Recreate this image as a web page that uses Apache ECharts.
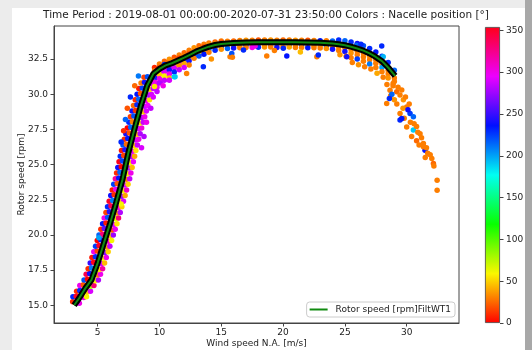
<!DOCTYPE html>
<html><head><meta charset="utf-8">
<script src="https://cdn.jsdelivr.net/npm/echarts@6/dist/echarts.min.js"></script>
<style>html,body{margin:0;padding:0;background:#fff}#c{width:532px;height:350px}</style>
</head><body><div id="c"></div>
<script>
// ---- data ----
const xTicks = [5, 10, 15, 20, 25, 30];
const yTicks = [15, 17.5, 20, 22.5, 25, 27.5, 30, 32.5];
const cbTicks = [0, 50, 100, 150, 200, 250, 300, 350];
const nacelleMin = 0, nacelleMax = 354;
const titleText = 'Time Period : 2019-08-01 00:00:00-2020-07-31 23:50:00 Colors : Nacelle position [°]';
const lineName = 'Rotor speed [rpm]FiltWT1';

const windCurve  = [3.1,3.5,4.0,4.5,5.0,5.5,6.0,6.5,7.0,7.5,8.0,8.5,9.0,9.5,10.0,10.5,11.0,11.5,12.0,12.5,13.0,13.5,14.0,14.5,15.0,16.0,17.0,18.0,19.0,20.0,21.0,22.0,23.0,24.0,24.5,25.0,25.5,26.0,26.5,27.0,27.5,28.0,28.5,29.06];
const rotorCurve = [15.0,15.5,16.2,16.8,18.0,19.4,20.8,22.3,23.9,25.9,27.6,29.2,30.6,31.45,31.8,32.05,32.2,32.4,32.6,32.82,33.05,33.22,33.38,33.5,33.57,33.65,33.68,33.7,33.7,33.7,33.7,33.68,33.66,33.6,33.55,33.48,33.38,33.25,33.1,32.9,32.65,32.35,31.9,31.3];

// [wind speed, rotor speed, nacelle position]
const rampPoints = [
[2.98,15.25,10],[3.52,15.15,300],
[3.0,15.6,230],[3.27,15.65,350],[3.87,15.55,300],[4.1,15.6,60],
[3.3,16.0,10],[3.56,16.05,230],[4.16,15.95,50],[4.42,16.0,290],
[3.56,16.4,300],[3.84,16.45,20],[4.44,16.35,80],[4.7,16.4,330],
[3.9,16.8,220],[4.18,16.85,0],[4.8,16.75,60],[5.06,16.8,280],
[4.07,17.2,340],[4.35,17.25,240],[4.97,17.15,30],[5.23,17.2,300],
[4.23,17.6,10],[4.51,17.65,210],[5.13,17.55,55],[5.4,17.6,320],
[4.4,18.0,250],[4.68,18.05,355],[5.3,17.95,290],[5.56,18.0,45],
[4.54,18.4,5],[4.82,18.45,230],[5.44,18.35,60],[5.7,18.4,300],
[4.69,18.8,300],[4.97,18.85,15],[5.59,18.75,270],[5.85,18.8,50],
[4.83,19.2,225],[5.11,19.25,350],[5.73,19.15,40],[5.99,19.2,285],
[4.97,19.6,0],[5.25,19.65,240],[5.87,19.55,310],[6.13,19.6,60],
[5.11,20.0,215],[5.39,20.05,330],[6.01,19.95,50],[6.27,20.0,275],
[5.26,20.4,10],[5.54,20.45,260],[6.16,20.35,20],[6.42,20.4,300],
[5.4,20.8,235],[5.68,20.85,5],[6.3,20.75,290],[6.56,20.8,55],
[5.53,21.2,300],[5.81,21.25,220],[6.43,21.15,65],[6.69,21.2,330],
[5.67,21.6,15],[5.95,21.65,245],[6.57,21.55,35],[6.83,21.6,280],
[5.8,22.0,230],[6.08,22.05,340],[6.7,21.95,300],[6.96,22.0,50],
[5.93,22.4,350],[6.21,22.45,210],[6.83,22.35,55],[7.09,22.4,290],
[6.06,22.8,240],[6.34,22.85,10],[6.96,22.75,275],[7.22,22.8,40],
[6.18,23.2,5],[6.46,23.25,300],[7.08,23.15,60],[7.34,23.2,310],
[6.3,23.6,225],[6.58,23.65,20],[7.2,23.55,290],[7.46,23.6,50],
[6.43,24.0,320],[6.71,24.05,235],[7.33,23.95,30],[7.59,24.0,285],
[6.53,24.4,10],[6.81,24.45,215],[7.43,24.35,55],[7.69,24.4,300],
[6.63,24.8,240],[6.91,24.85,0],[7.53,24.75,280],[7.79,24.8,45],
[6.73,25.2,355],[7.01,25.25,225],[7.63,25.15,60],[7.89,25.2,295],
[6.83,25.6,230],[7.11,25.65,15],[7.73,25.55,285],[7.99,25.6,40],
[6.93,26.0,5],[7.21,26.05,245],[7.83,25.95,300],[8.09,26.0,55],
[7.05,26.4,220],[7.33,26.45,25],[7.95,26.35,50],[8.21,26.4,285],
[7.16,26.8,10],[7.44,26.85,235],[8.06,26.75,290],[8.32,26.8,300],
[7.28,27.2,240],[7.56,27.25,20],[8.18,27.15,45],[8.44,27.2,280],
[7.4,27.6,0],[7.68,27.65,215],[8.3,27.55,290],[8.56,27.6,305],
[7.53,28.0,230],[7.81,28.05,30],[8.43,27.95,55],[8.69,28.0,285],
[7.65,28.4,15],[7.93,28.45,220],[8.55,28.35,280],[8.81,28.4,300],
[7.78,28.8,240],[8.06,28.85,10],[8.68,28.75,50],[8.94,28.8,290],
[7.9,29.2,25],[8.18,29.25,230],[8.8,29.15,285],[9.06,29.2,295],
[8.04,29.6,10],[8.32,29.65,215],[8.94,29.55,300],[9.2,29.6,55],
[8.19,30.0,235],[8.47,30.05,20],[9.09,29.95,280],[9.35,30.0,290],
[8.33,30.4,5],[8.61,30.45,225],[9.23,30.35,50],[9.5,30.4,285],
[8.51,30.8,30],[8.79,30.85,240],[9.41,30.75,300],[9.68,30.8,290],
[8.75,31.2,15],[9.03,31.25,220],[9.65,31.15,285],[9.92,31.2,300],
[6.9,26.6,230],[8.55,26.2,290],[7.1,27.4,10],[8.75,27.0,280],[7.25,28.2,215],[8.95,28.0,300],
[7.4,29.0,20],[9.3,29.0,285],[7.65,29.8,230],[9.5,29.8,290],[8.0,30.6,25],[9.8,30.5,300],
[8.3,31.3,210],[10.1,30.9,285],[5.1,19.8,200],[6.9,22.2,60]
];

const plateauPoints = [
[9.6,31.9,10],[9.6,31.67,30],[9.6,31.35,290],[9.6,31.15,230],[9.6,30.85,300],[9.6,30.55,55],
[10.0,32.15,30],[10.0,31.92,20],[10.0,31.6,285],[10.0,31.4,50],[10.0,31.1,300],[10.0,30.8,280],
[10.4,32.35,25],[10.4,32.12,230],[10.4,31.8,300],[10.4,31.6,290],[10.4,31.3,60],[10.4,31.0,285],
[10.8,32.49,35],[10.8,32.26,30],[10.8,31.94,280],[10.8,31.74,240],[10.8,31.44,300],[10.8,31.15,45],
[11.2,32.63,20],[11.2,32.4,30],[11.2,32.08,50],[11.2,31.88,290],[11.2,31.58,230],[11.2,31.25,185],
[11.6,32.79,30],[11.6,32.56,15],[11.6,32.24,300],[11.6,32.04,35],[11.6,31.74,285],
[12.0,32.95,25],[12.0,32.72,30],[12.0,32.4,230],[12.0,32.2,40],[12.0,31.9,290],
[12.4,33.13,30],[12.4,32.9,20],[12.4,32.58,45],[12.4,32.38,240],[12.4,32.08,30],
[12.8,33.31,35],[12.8,33.08,30],[12.8,32.76,230],[12.8,32.56,30],
[13.2,33.45,25],[13.2,33.24,30],[13.2,32.92,50],[13.2,32.72,220],
[13.6,33.55,30],[13.6,33.37,20],[13.6,33.05,35],[13.6,32.85,235],
[14.0,33.64,30],[14.0,33.5,35],[14.0,33.18,210],[14.0,32.98,30],
[14.5,33.72,25],[14.5,33.62,30],[14.5,33.3,40],[14.5,33.12,230],
[15.0,33.78,30],[15.0,33.69,20],[15.0,33.37,230],[15.0,33.2,35],
[15.5,33.76,30],[15.5,33.42,35],[15.5,33.25,215],
[16.0,33.79,25],[16.0,33.45,30],[16.0,33.28,240],
[16.5,33.82,30],[16.5,33.47,40],[16.5,33.3,30],
[17.0,33.83,35],[17.0,33.48,225],[17.0,33.32,30],
[17.5,33.84,30],[17.5,33.49,30],[17.5,33.33,300],
[18.0,33.85,20],[18.0,33.5,40],[18.0,33.34,230],
[18.5,33.85,30],[18.5,33.5,30],[18.5,33.35,35],
[19.0,33.85,35],[19.0,33.5,215],[19.0,33.35,30],
[19.5,33.84,30],[19.5,33.5,30],[19.5,33.33,240],
[20.0,33.85,25],[20.0,33.5,35],[20.0,33.34,30],
[20.5,33.85,30],[20.5,33.5,230],[20.5,33.35,40],
[21.0,33.84,35],[21.0,33.5,30],[21.0,33.33,30],
[21.5,33.84,30],[21.5,33.49,220],[21.5,33.32,30],
[22.0,33.83,20],[22.0,33.48,35],[22.0,33.3,235],
[22.5,33.82,30],[22.5,33.47,30],[22.5,33.3,30],
[23.0,33.81,235],[23.0,33.46,40],[23.0,33.28,30],
[23.5,33.8,30],[23.5,33.43,225],[23.5,33.25,35],
[24.0,33.78,215],[24.0,33.4,30],[24.0,33.2,240],
[16.8,33.14,230],[18.68,32.71,30],[20.02,33.26,230],[20.3,32.71,235],[22.73,32.66,30],[22.85,32.78,230],
[17.74,33.42,300],[13.55,31.95,230],[15.71,32.66,30],[15.85,32.9,220],[12.2,31.48,30],[11.26,31.24,190],
[15.9,32.62,30],[19.3,33.1,30],[21.4,33.0,45],[14.2,32.5,35],[10.8,31.0,290],[10.3,30.6,300],[9.8,30.2,285]
];

const tailPoints = [
[24.5,33.85,230],[24.5,33.35,30],[24.5,33.1,30],[24.6,32.8,35],
[25.0,33.8,215],[25.0,33.28,30],[25.0,33.03,240],[25.1,32.7,30],
[25.5,33.72,230],[25.5,33.18,30],[25.5,32.93,35],[25.5,32.6,30],[25.6,32.25,30],
[26.0,33.6,240],[26.0,33.05,30],[26.0,32.8,30],[26.0,32.5,225],[26.1,32.1,35],
[26.5,33.45,220],[26.5,32.9,30],[26.5,32.65,30],[26.5,32.35,30],[26.6,31.95,30],
[27.0,33.25,230],[27.0,32.7,35],[27.0,32.45,30],[27.0,32.15,210],[27.1,31.8,30],
[27.5,33.0,235],[27.5,32.45,30],[27.5,32.2,30],[27.5,31.9,30],[27.6,31.5,40],
[28.0,32.7,225],[28.0,32.15,30],[28.0,31.9,200],[28.0,31.6,30],[28.1,31.2,30],
[28.5,32.25,230],[28.5,31.7,30],[28.5,31.45,30],[28.5,31.15,35],[28.4,30.7,30],
[29.0,31.7,215],[29.0,31.15,30],[29.0,30.9,30],[28.9,30.6,30],
[27.98,33.42,230],[25.96,33.49,215],[27.04,32.9,225],[25.15,32.66,240],[28.1,32.66,195],[26.3,33.55,230],
[28.9,30.77,30],[28.65,30.29,30],[29.19,30.17,25],[29.46,29.94,30],[28.38,29.35,30],[29.73,29.6,35],
[30.0,29.1,30],[29.46,28.63,30],[30.27,28.63,225],[29.46,28.16,230],[30.54,28.4,215],[30.0,27.68,30],
[30.54,27.45,190],[30.8,27.7,30],[31.08,27.2,30],[30.8,26.7,25],[31.35,26.5,30],[31.48,26.02,235],
[31.35,26.26,30],[32.03,25.43,30],[32.16,25.08,25],[32.46,23.89,30],[32.46,23.18,30],
[29.3,30.5,30],[29.6,30.3,30],[29.9,29.8,30],[29.2,29.3,30],[29.7,29.0,35],[30.2,29.3,30],
[29.8,28.3,30],[30.3,28.0,30],[30.1,28.9,240],[30.6,27.9,30],[30.9,27.3,30],[31.2,26.9,30],
[31.0,26.4,30],[31.6,26.2,30],[31.7,25.8,30],[31.9,25.7,30],[32.2,24.9,30],[28.7,29.9,30],
[29.0,29.6,35],[28.8,30.0,215],[30.4,27.0,30],[31.5,25.5,30],[29.6,28.28,235],[28.6,29.7,230]
];

// ---- style ----
const hsvColors = ['#ff0000','#fbf700','#08ff00','#00fff2','#0010ff','#ed00ff','#ff0018'];
const txt = '#222';
const font = 'DejaVu Sans';

const chart = echarts.init(document.getElementById('c'), null, {renderer:'canvas'});
const scatterData = rampPoints.concat(plateauPoints, tailPoints);
const curveData = windCurve.map((w, i) => [w, rotorCurve[i]]);

chart.setOption({
  animation: false,
  backgroundColor: '#fff',
  textStyle: {fontFamily: font},
  graphic: [
    {type:'rect', silent:true, z:-10, shape:{x:0,y:0,width:532,height:8}, style:{fill:'#ececec'}},
    {type:'rect', silent:true, z:-10, shape:{x:0,y:0,width:12,height:350}, style:{fill:'#ececec'}},
    {type:'rect', silent:true, z:-10, shape:{x:525,y:0,width:7,height:350}, style:{fill:'#a8a8a8'}}
  ],
  title: {
    text: titleText, left: 'center', top: 10, padding: 0,
    textStyle: {fontSize: 10.5, fontWeight: 'normal', color: txt, fontFamily: font}
  },
  legend: {
    data: [{name: lineName, icon: 'rect'}],
    right: 77, bottom: 33, padding: [3, 4, 3, 3],
    itemWidth: 18, itemHeight: 2,
    borderColor: '#cccccc', borderWidth: 1, borderRadius: 3,
    backgroundColor: 'rgba(255,255,255,0.85)',
    textStyle: {fontSize: 9, color: txt, fontFamily: font, padding: [0,0,0,3]}
  },
  visualMap: {
    show: false, type: 'continuous', dimension: 2, seriesIndex: 0,
    min: nacelleMin, max: nacelleMax, inRange: {color: hsvColors}
  },
  grid: [
    {left: 54, right: 73, top: 26, bottom: 27, containLabel: false, outerBoundsMode: 'none',
     show: true, borderColor: '#444', borderWidth: 1, backgroundColor: 'transparent'},
    {left: 485, width: 15, top: 27, bottom: 27, containLabel: false, outerBoundsMode: 'none', show: false}
  ],
  xAxis: [
    {type:'value', gridIndex:0, min:1.47, max:34.23,
     name:'Wind speed N.A. [m/s]', nameLocation:'middle', nameGap:16, nameMoveOverlap:false,
     nameTextStyle:{fontSize:9, color:txt, fontFamily:font},
     axisLine:{show:true, lineStyle:{color:'#444'}},
     axisTick:{show:true, length:3.5, lineStyle:{color:'#444'}, customValues: xTicks},
     axisLabel:{fontSize:9, color:txt, margin:5, fontFamily:font, customValues: xTicks},
     splitLine:{show:false}},
    {type:'category', gridIndex:1, data:[''], show:false}
  ],
  yAxis: [
    {type:'value', gridIndex:0, min:13.74, max:34.85,
     name:'Rotor speed [rpm]', nameLocation:'middle', nameGap:28, nameMoveOverlap:false,
     nameTextStyle:{fontSize:9, color:txt, fontFamily:font},
     axisLine:{show:true, lineStyle:{color:'#444'}},
     axisTick:{show:true, length:3.5, lineStyle:{color:'#444'}, customValues: yTicks},
     axisLabel:{fontSize:9, color:txt, margin:6, fontFamily:font, customValues: yTicks,
       formatter: v => v.toFixed(1)},
     splitLine:{show:false}},
    {type:'value', gridIndex:1, min:nacelleMin, max:nacelleMax, position:'right',
     axisLine:{show:false},
     axisTick:{show:true, length:3.5, lineStyle:{color:'#444'}, customValues: cbTicks},
     axisLabel:{fontSize:9, color:txt, margin:6, fontFamily:font, customValues: cbTicks},
     splitLine:{show:false}}
  ],
  series: [
    {type:'scatter', name:'scatter', xAxisIndex:0, yAxisIndex:0, data: scatterData,
     symbolSize: 5.5, itemStyle:{opacity:1}, z:2},
    {type:'line', name:'binned', xAxisIndex:0, yAxisIndex:0, data: curveData,
     showSymbol:false, symbol:'none', lineStyle:{color:'#000', width:6}, z:3},
    {type:'line', name: lineName, xAxisIndex:0, yAxisIndex:0, data: curveData,
     showSymbol:false, symbol:'none', itemStyle:{color:'#108a10'}, lineStyle:{color:'#108a10', width:2}, z:4},
    {type:'bar', name:'colorbar', xAxisIndex:1, yAxisIndex:1, data:[nacelleMax], barWidth:'100%',
     itemStyle:{borderColor:'#444', borderWidth:0.8,
       color: new echarts.graphic.LinearGradient(0, 1, 0, 0,
         hsvColors.map((c, i) => ({offset: i / (hsvColors.length - 1), color: c})))}}
  ]
});
</script>
</body></html>
